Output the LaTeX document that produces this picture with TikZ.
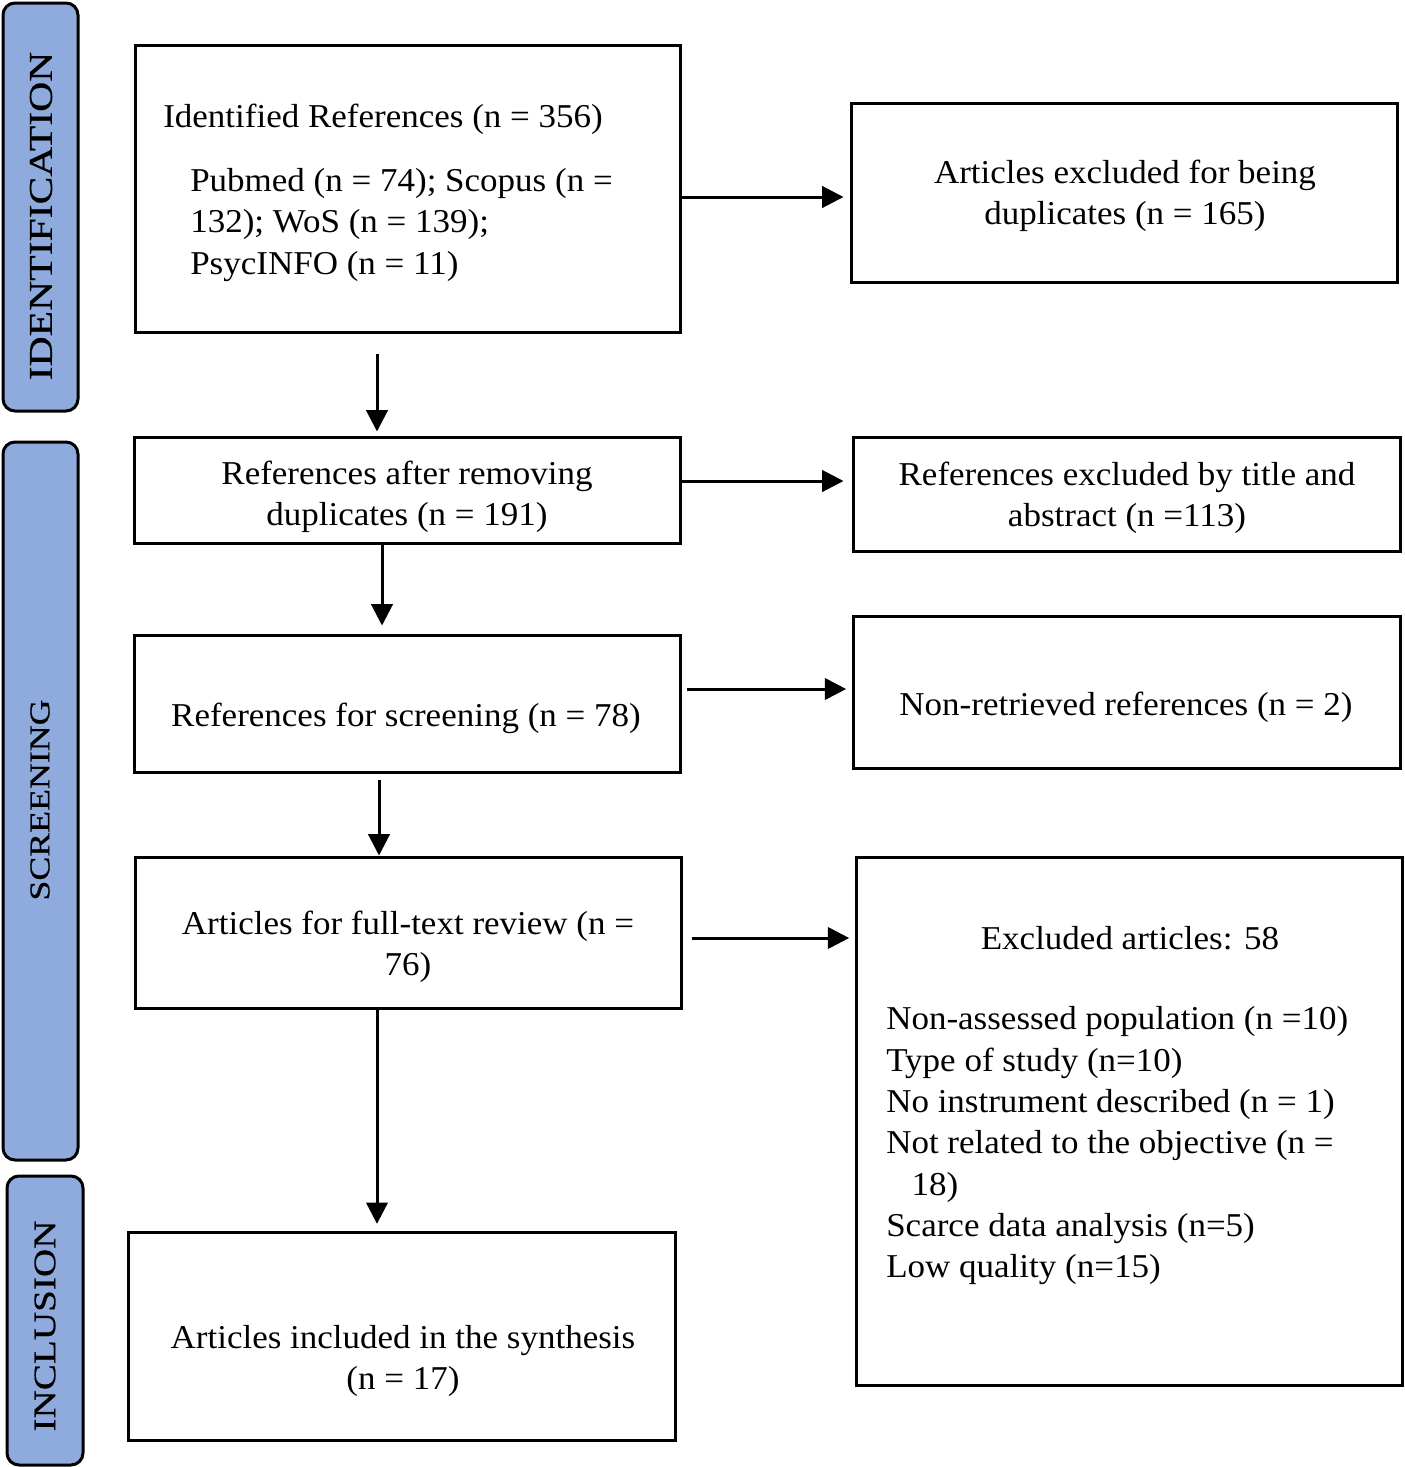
\documentclass[tikz,border=0pt]{standalone}
\usepackage{fontspec}
\setmainfont[FakeStretch=1.05]{Liberation Serif}
\newfontfamily\sidefont[FakeStretch=1.25,FakeBold=0.6]{Liberation Serif}
\usetikzlibrary{arrows.meta,fit}
\definecolor{sidefill}{HTML}{8FAADC}
\begin{document}
\begin{tikzpicture}[x=0.75pt,y=-0.75pt,
  box/.style={draw, line width=2.25pt, inner sep=0pt},
  side/.style={draw, line width=2.25pt, fill=sidefill, rounded corners=9pt, inner sep=0pt},
  txt/.style={font=\fontsize{25}{31}\selectfont, align=center, inner sep=0pt},
  ltxt/.style={font=\fontsize{25}{31}\selectfont, align=left, inner sep=0pt, anchor=west},
  sidetxt/.style={rotate=90, inner sep=0pt},
  arr/.style={line width=2.25pt, -{Triangle[length=16pt,width=16pt]}}]
\useasboundingbox (0,0) rectangle (1404,1467);
% sidebars
\node[side, fit={(3,3) (78,411)}] (s1) {};
\node[side, fit={(3,442) (78,1160)}] (s2) {};
\node[side, fit={(7,1176) (83,1465)}] (s3) {};
\node[sidetxt, font=\sidefont\fontsize{25}{28}\selectfont] (t1) at (41,216) {IDENTIFICATION};
\node[sidetxt, font=\sidefont\fontsize{21.5}{28}\selectfont] (t2) at (40,800) {SCREENING};
\node[sidetxt, font=\sidefont\fontsize{23.5}{28}\selectfont] (t3) at (45,1326) {INCLUSION};
% boxes
\node[box, fit={(135,45) (680,332)}] (A) {};
\node[box, fit={(851,103) (1397,282)}] (B) {};
\node[box, fit={(134,437) (680,543)}] (C) {};
\node[box, fit={(853,437) (1400,551)}] (D) {};
\node[box, fit={(134,635) (680,772)}] (E) {};
\node[box, fit={(853,616) (1400,768)}] (F) {};
\node[box, fit={(135,857) (681,1008)}] (G) {};
\node[box, fit={(856,857) (1402,1385)}] (H) {};
\node[box, fit={(128,1232) (675,1440)}] (I) {};
% texts
\node[txt, anchor=west] (a1) at (163,119) {Identified References (n = 356)};
\node[ltxt] (a2) at (190,225) {Pubmed (n = 74); Scopus (n =\\132); WoS (n = 139);\\PsycINFO (n = 11)};
\node[txt] (b1) at (1125,196) {Articles excluded for being\\duplicates (n = 165)};
\node[txt] (c1) at (407,497) {References after removing\\duplicates (n = 191)};
\node[txt] (d1) at (1127,498) {References excluded by title and\\abstract (n =113)};
\node[txt] (e1) at (406,718) {References for screening (n = 78)};
\node[txt] (f1) at (1126,707) {Non-retrieved references (n = 2)};
\node[txt] (g1) at (408,947) {Articles for full-text review (n =\\76)};
\node[txt] (h1) at (1130,938) {Excluded articles: 58};
\node[ltxt] (h2) at (886,1146) {Non-assessed population (n =10)\\Type of study (n=10)\\No instrument described (n = 1)\\Not related to the objective (n =\\\hspace*{19pt}18)\\Scarce data analysis (n=5)\\Low quality (n=15)};
\node[txt] (i1) at (403,1361) {Articles included in the synthesis\\(n = 17)};
% arrows
\draw[arr, shorten >=4.5pt] (A.east |- 0,197) -- (B.west |- 0,197);
\draw[arr, shorten <=15pt, shorten >=3pt] (A.south -| 377,0) -- (C.north -| 377,0);
\draw[arr, shorten >=6pt] (C.east |- 0,481) -- (D.west |- 0,481);
\draw[arr, shorten >=6pt] (C.south -| 382,0) -- (E.north -| 382,0);
\draw[arr, shorten <=4pt, shorten >=4pt] (E.east |- 0,689) -- (F.west |- 0,689);
\draw[arr, shorten <=4.5pt] (E.south -| 379,0) -- (G.north -| 379,0);
\draw[arr, shorten <=7pt, shorten >=4pt] (G.east |- 0,938) -- (H.west |- 0,938);
\draw[arr, shorten >=5pt] (G.south -| 377,0) -- (I.north -| 377,0);
\end{tikzpicture}
\end{document}
